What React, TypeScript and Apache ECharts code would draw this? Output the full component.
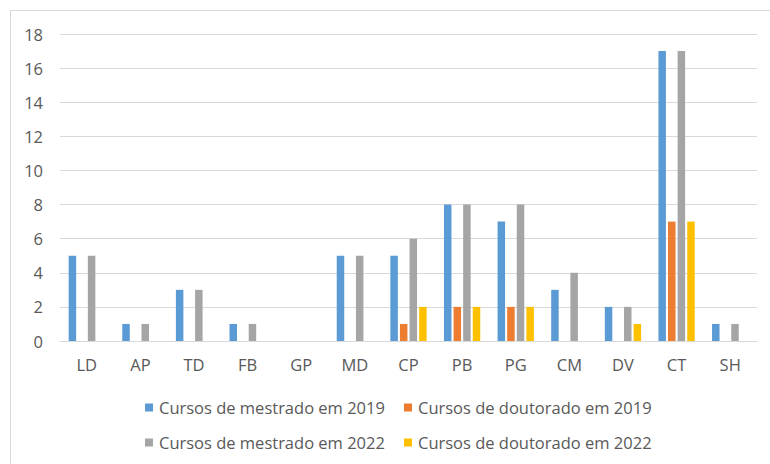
import React, { useEffect, useRef } from "react";
import * as echarts from "echarts";

const categories = ["LD", "AP", "TD", "FB", "GP", "MD", "CP", "PB", "PG", "CM", "DV", "CT", "SH"];
const mestrado2019 = [5, 1, 3, 1, 0, 5, 5, 8, 7, 3, 2, 17, 1];
const doutorado2019 = [0, 0, 0, 0, 0, 0, 1, 2, 2, 0, 0, 7, 0];
const mestrado2022 = [5, 1, 3, 1, 0, 5, 6, 8, 8, 4, 2, 17, 1];
const doutorado2022 = [0, 0, 0, 0, 0, 0, 2, 2, 2, 0, 1, 7, 0];
const seriesNames = [
  "Cursos de mestrado em 2019",
  "Cursos de doutorado em 2019",
  "Cursos de mestrado em 2022",
  "Cursos de doutorado em 2022",
];
const colors = ["#5B9BD5", "#ED7D31", "#A5A5A5", "#FFC000"];

const FONT = "Open Sans";
const TEXT_COLOR = "#595959";

export default function App() {
  const ref = useRef<HTMLDivElement>(null);
  useEffect(() => {
    document.body.style.margin = "0";
    const chart = echarts.init(ref.current!, null, { renderer: "svg" });
    const values = [mestrado2019, doutorado2019, mestrado2022, doutorado2022];
    const legendPos = [
      { left: 145, top: 399 },
      { left: 404, top: 399 },
      { left: 145, top: 434 },
      { left: 404, top: 434 },
    ];
    chart.setOption({
      animation: false,
      color: colors,
      textStyle: { fontFamily: FONT },
      graphic: [
        {
          type: "rect",
          shape: { x: 10.5, y: 10.5, width: 800, height: 500 },
          style: { fill: "none", stroke: "#d9d9d9", lineWidth: 1 },
          silent: true,
        },
      ],
      grid: { left: 60, right: 13, top: 34, bottom: 123, containLabel: false },
      xAxis: {
        type: "category",
        data: categories,
        axisLine: { show: true, lineStyle: { color: "#d9d9d9" } },
        axisTick: { show: false },
        axisLabel: { color: TEXT_COLOR, fontSize: 16.5, fontFamily: FONT, margin: 15 },
      },
      yAxis: {
        type: "value",
        min: 0,
        max: 18,
        interval: 2,
        axisLine: { show: false },
        axisTick: { show: false },
        splitLine: { lineStyle: { color: "#d9d9d9" } },
        axisLabel: { color: TEXT_COLOR, fontSize: 16.5, fontFamily: FONT, margin: 17 },
      },
      legend: seriesNames.map((n, i) => ({
        data: [n],
        left: legendPos[i].left,
        top: legendPos[i].top,
        icon: "rect",
        itemWidth: 8,
        itemHeight: 8,
        itemGap: 0,
        padding: 0,
        textStyle: { color: TEXT_COLOR, fontSize: 16.5, fontFamily: FONT, padding: [0, 0, 0, 1] },
      })),
      series: seriesNames.map((n, i) => ({
        name: n,
        type: "bar",
        data: values[i],
        barWidth: 7.5,
        barGap: "28%",
        itemStyle: { color: colors[i] },
      })),
    });
    return () => chart.dispose();
  }, []);
  return <div ref={ref} style={{ width: 770, height: 464 }} />;
}
